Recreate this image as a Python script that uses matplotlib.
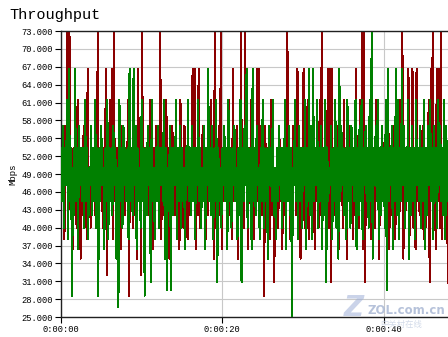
import matplotlib as mpl

mpl.rcParams["font.family"] = ["Liberation Mono", "Noto Sans CJK SC", "DejaVu Sans"]

import matplotlib.pyplot as plt
import numpy as np

# Mbps samples, one peak and one dip per quarter second
green_hi = [
    53.3, 57.1, 53.3, 61.5, 66.7, 53.3, 50.0, 66.7, 53.3, 57.1, 53.3, 53.3, 61.5, 53.3, 50.0, 57.1,
    53.3, 61.5, 53.3, 53.3, 57.1, 50.0, 53.3, 61.5, 53.3, 53.3, 57.1, 53.3, 50.0, 61.5, 53.3, 57.1,
    53.3, 53.3, 66.7, 53.3, 66.7, 57.1, 53.3, 50.0, 61.5, 53.3, 53.3, 57.1, 53.3, 61.5, 50.0, 53.3,
    57.1, 53.3, 53.3, 61.5, 53.3, 50.0, 57.1, 53.3, 53.3, 61.5, 53.3, 57.1, 53.3, 50.0, 53.3, 61.5,
    53.3, 57.1, 53.3, 53.3, 61.5, 53.3, 50.0, 57.1, 53.3, 66.7, 53.3, 57.1, 53.3, 61.5, 53.3, 50.0,
    53.3, 57.1, 53.3, 61.5, 53.3, 53.3, 57.1, 50.0, 53.3, 61.5, 53.3, 57.1, 66.7, 53.3, 53.3, 66.7,
    53.3, 57.1, 50.0, 53.3, 61.5, 53.3, 53.3, 57.1, 53.3, 61.5, 50.0, 53.3, 57.1, 53.3, 53.3, 61.5,
    53.3, 57.1, 53.3, 50.0, 61.5, 53.3, 57.1, 53.3, 53.3, 61.5, 53.3, 66.7, 57.1, 66.7, 53.3, 61.5,
    53.3, 57.1, 53.3, 61.5, 53.3, 50.0, 57.1, 53.3, 61.5, 53.3, 66.7, 57.1, 53.3, 53.3, 61.5, 53.3,
    57.1, 53.3, 61.5, 53.3, 57.1, 61.5, 53.3, 57.1, 53.3, 61.5, 72.7, 53.3, 57.1, 61.5, 53.3, 57.1,
    53.3, 61.5, 66.7, 53.3, 57.1, 53.3, 66.7, 61.5, 53.3, 66.7, 57.1, 53.3, 61.5, 53.3, 57.1, 53.3,
    61.5, 53.3, 57.1, 53.3, 61.5, 53.3, 57.1, 61.5, 53.3, 57.1, 53.3, 61.5, 57.1, 53.3, 61.5, 57.1,
]
green_lo = [
    44.4, 40.0, 47.1, 38.1, 44.4, 28.6, 42.1, 44.4, 36.4, 47.1, 44.4, 40.0, 44.4, 38.1, 47.1, 42.1,
    44.4, 40.0, 28.6, 44.4, 47.1, 36.4, 44.4, 38.1, 44.4, 42.1, 47.1, 34.8, 26.7, 44.4, 40.0, 47.1,
    44.4, 38.1, 44.4, 42.1, 47.1, 36.4, 44.4, 40.0, 44.4, 28.6, 42.1, 47.1, 30.8, 44.4, 38.1, 44.4,
    40.0, 47.1, 44.4, 34.8, 29.6, 44.4, 29.6, 42.1, 47.1, 38.1, 44.4, 40.0, 44.4, 36.4, 47.1, 44.4,
    42.1, 44.4, 38.1, 47.1, 44.4, 40.0, 44.4, 36.4, 47.1, 44.4, 42.1, 38.1, 44.4, 30.8, 44.4, 40.0,
    47.1, 44.4, 36.4, 44.4, 40.0, 47.1, 44.4, 38.1, 42.1, 30.8, 44.4, 47.1, 40.0, 44.4, 36.4, 44.4,
    42.1, 47.1, 38.1, 44.4, 40.0, 44.4, 34.8, 47.1, 44.4, 42.1, 38.1, 44.4, 47.1, 40.0, 44.4, 36.4,
    44.4, 42.1, 25.0, 47.1, 44.4, 38.1, 44.4, 40.0, 47.1, 36.4, 44.4, 42.1, 38.1, 44.4, 47.1, 40.0,
    44.4, 36.4, 42.1, 30.8, 44.4, 47.1, 38.1, 44.4, 40.0, 34.8, 44.4, 47.1, 42.1, 38.1, 44.4, 40.0,
    47.1, 44.4, 36.4, 42.1, 44.4, 38.1, 47.1, 44.4, 40.0, 44.4, 34.8, 47.1, 44.4, 38.1, 42.1, 44.4,
    40.0, 29.6, 44.4, 47.1, 36.4, 44.4, 42.1, 38.1, 44.4, 47.1, 40.0, 44.4, 34.8, 42.1, 44.4, 38.1,
    47.1, 44.4, 40.0, 44.4, 36.4, 42.1, 47.1, 44.4, 38.1, 44.4, 40.0, 47.1, 44.4, 42.1, 38.1, 44.4,
]
red_hi = [
    53.3, 50.0, 57.1, 72.7, 72.7, 53.3, 53.3, 50.0, 61.5, 53.3, 53.3, 57.1, 53.3, 66.7, 50.0, 53.3,
    53.3, 57.1, 72.7, 53.3, 50.0, 53.3, 66.7, 53.3, 61.5, 66.7, 72.7, 53.3, 53.3, 50.0, 57.1, 53.3,
    53.3, 61.5, 53.3, 50.0, 53.3, 57.1, 66.7, 53.3, 72.7, 53.3, 50.0, 53.3, 61.5, 53.3, 53.3, 57.1,
    53.3, 72.7, 53.3, 50.0, 61.5, 53.3, 53.3, 57.1, 53.3, 50.0, 53.3, 61.5, 53.3, 57.1, 53.3, 53.3,
    50.0, 66.7, 66.7, 53.3, 66.7, 53.3, 57.1, 53.3, 50.0, 53.3, 61.5, 53.3, 72.7, 53.3, 57.1, 72.7,
    53.3, 50.0, 53.3, 61.5, 53.3, 66.7, 53.3, 57.1, 53.3, 72.7, 50.0, 72.7, 53.3, 53.3, 61.5, 53.3,
    53.3, 66.7, 66.7, 50.0, 53.3, 57.1, 53.3, 53.3, 61.5, 53.3, 50.0, 53.3, 57.1, 53.3, 53.3, 61.5,
    72.7, 53.3, 53.3, 57.1, 50.0, 66.7, 53.3, 53.3, 66.7, 53.3, 61.5, 50.0, 53.3, 57.1, 53.3, 53.3,
    61.5, 72.7, 53.3, 50.0, 66.7, 66.7, 66.7, 53.3, 53.3, 57.1, 53.3, 50.0, 61.5, 53.3, 53.3, 57.1,
    53.3, 50.0, 66.7, 53.3, 61.5, 72.7, 72.7, 53.3, 53.3, 57.1, 50.0, 53.3, 61.5, 53.3, 53.3, 57.1,
    53.3, 50.0, 61.5, 53.3, 53.3, 57.1, 53.3, 50.0, 61.5, 72.7, 53.3, 53.3, 66.7, 53.3, 66.7, 53.3,
    66.7, 53.3, 50.0, 57.1, 53.3, 53.3, 61.5, 66.7, 72.7, 53.3, 66.7, 66.7, 72.7, 53.3, 57.1, 53.3,
]
red_lo = [
    44.4, 38.1, 47.1, 42.1, 44.4, 36.4, 47.1, 40.0, 44.4, 34.8, 42.1, 47.1, 38.1, 44.4, 40.0, 47.1,
    42.1, 44.4, 36.4, 47.1, 40.0, 44.4, 32.0, 42.1, 47.1, 38.1, 44.4, 40.0, 47.1, 36.4, 44.4, 42.1,
    47.1, 28.6, 44.4, 40.0, 42.1, 34.8, 47.1, 32.0, 44.4, 38.1, 47.1, 42.1, 44.4, 36.4, 40.0, 47.1,
    44.4, 38.1, 42.1, 47.1, 44.4, 34.8, 40.0, 47.1, 42.1, 44.4, 36.4, 47.1, 40.0, 44.4, 38.1, 42.1,
    47.1, 44.4, 36.4, 42.1, 40.0, 47.1, 44.4, 38.1, 42.1, 47.1, 44.4, 34.8, 40.0, 47.1, 42.1, 36.4,
    44.4, 47.1, 40.0, 42.1, 38.1, 44.4, 47.1, 34.8, 42.1, 44.4, 40.0, 47.1, 36.4, 44.4, 42.1, 38.1,
    47.1, 44.4, 40.0, 42.1, 28.6, 47.1, 44.4, 38.1, 42.1, 30.8, 47.1, 40.0, 44.4, 36.4, 42.1, 47.1,
    44.4, 38.1, 40.0, 47.1, 42.1, 44.4, 34.8, 47.1, 40.0, 44.4, 38.1, 42.1, 47.1, 36.4, 44.4, 40.0,
    42.1, 47.1, 44.4, 38.1, 40.0, 30.8, 47.1, 42.1, 44.4, 36.4, 47.1, 40.0, 42.1, 34.8, 44.4, 47.1,
    38.1, 42.1, 44.4, 40.0, 47.1, 36.4, 30.8, 44.4, 42.1, 38.1, 47.1, 40.0, 44.4, 34.8, 42.1, 47.1,
    40.0, 44.4, 36.4, 42.1, 47.1, 38.1, 44.4, 40.0, 47.1, 34.8, 42.1, 44.4, 38.1, 47.1, 40.0, 36.4,
    44.4, 42.1, 47.1, 38.1, 40.0, 44.4, 30.8, 47.1, 42.1, 36.4, 44.4, 40.0, 38.1, 47.1, 42.1, 30.8,
]

y_ticks = [25, 28, 31, 34, 37, 40, 43, 46, 49, 52, 55, 58, 61, 64, 67, 70, 73]
x_ticks = [0, 20, 40]
x_labels = ["0:00:00", "0:00:20", "0:00:40"]

STEP = 0.25  # seconds between successive peaks


def zigzag(hi, lo, offset):
    t = np.empty(2 * len(hi))
    y = np.empty(2 * len(hi))
    t[0::2] = np.arange(len(hi)) * STEP + offset
    t[1::2] = np.arange(len(hi)) * STEP + offset + STEP / 2
    y[0::2] = hi
    y[1::2] = lo
    return t, y


fig = plt.figure(figsize=(4.48, 3.37), dpi=100)
ax = fig.add_axes([0.136, 0.059, 0.864, 0.849])

ax.set_xlim(0, 47.96)
ax.set_ylim(25, 73)

ax.set_yticks(y_ticks)
ax.set_yticklabels(["%.3f" % v for v in y_ticks])
ax.set_xticks(x_ticks)
ax.set_xticklabels(x_labels)
ax.tick_params(labelsize=6.3, length=4, width=0.8, pad=2, colors="black")
ax.grid(True, color="#c8c8c8", linewidth=0.8, linestyle="-")
ax.set_axisbelow(True)

ax.spines["right"].set_visible(False)
for side in ["left", "bottom", "top"]:
    ax.spines[side].set_linewidth(1.0)
    ax.spines[side].set_color("#202020")

t, y = zigzag(red_hi, red_lo, 0.06)
ax.plot(t, y, color="#8b0000", linewidth=0.72, antialiased=False, zorder=2)
t, y = zigzag(green_hi, green_lo, 0.0)
ax.plot(t, y, color="#008000", linewidth=0.72, antialiased=False, zorder=3)

ax.set_ylabel("Mbps", fontsize=6.5, labelpad=3)
fig.text(0.022, 0.955, "Throughput", fontsize=11, ha="left", va="center")

# faint site watermark in the lower right corner
fig.text(0.79, 0.085, "Z", fontsize=20, color="#9fb0d8", alpha=0.55,
         ha="center", va="center", fontweight="bold", style="italic",
         family="DejaVu Sans", zorder=10)
fig.text(0.908, 0.08, "ZOL.com.cn", fontsize=8.5, color="#aab8d4", alpha=0.85,
         ha="center", va="center", fontweight="bold", family="DejaVu Sans", zorder=10)
fig.text(0.895, 0.038, "中关村在线", fontsize=6, color="#c8d2e4", alpha=0.8,
         ha="center", va="center", family=["Noto Sans CJK SC", "DejaVu Sans"], zorder=10)

plt.savefig("out.png", dpi=100)
